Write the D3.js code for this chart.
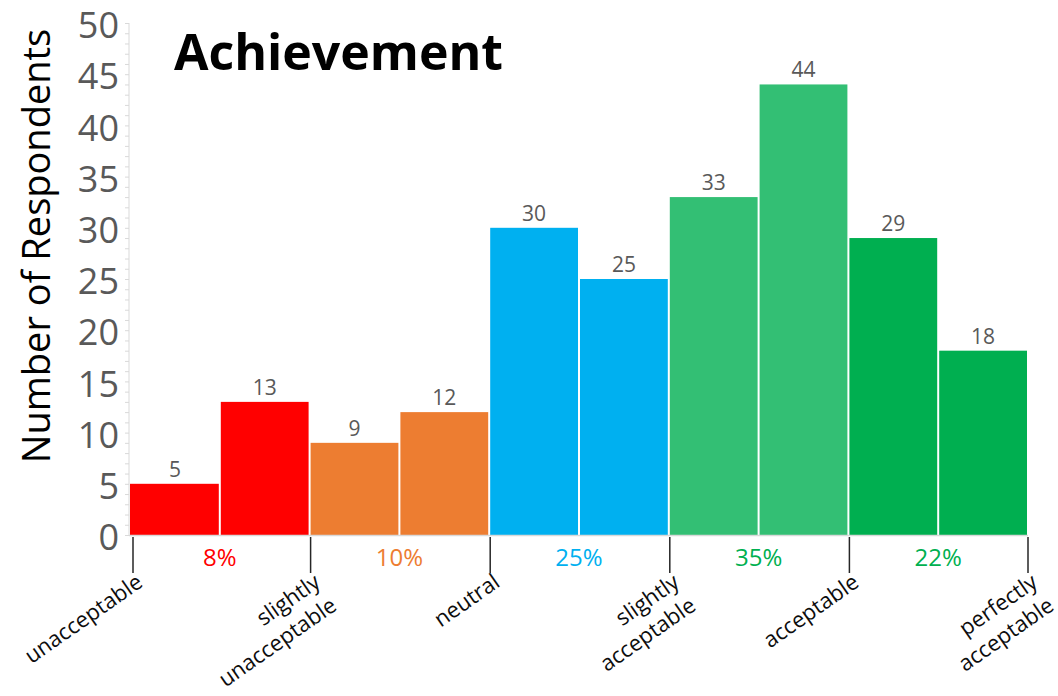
<!DOCTYPE html>
<html>
<head>
<meta charset="utf-8">
<script src="https://cdn.jsdelivr.net/npm/d3@7/dist/d3.min.js"></script>
<style>
  html, body { margin: 0; padding: 0; background: #fff; }
  svg { display: block; }
  text { font-family: "Open Sans", "Noto Sans", sans-serif; }
</style>
</head>
<body>
<svg id="chart" width="1058" height="696"></svg>
<script>
// Respondent counts, two bars per rating band
const values = [5, 13, 9, 12, 30, 25, 33, 44, 29, 18];
// Labels sitting on the band boundaries
const boundaryLabels = [
  ["unacceptable"],
  ["slightly", "unacceptable"],
  ["neutral"],
  ["slightly", "acceptable"],
  ["acceptable"],
  ["perfectly", "acceptable"]
];
// One colour per band (bars) and for the band's share label
const bandColors = ["#FF0000", "#ED7D31", "#00B0F0", "#33BF74", "#00AF50"];
const shareColors = ["#FF0000", "#ED7D31", "#00B0F0", "#00B050", "#00B050"];
const yTicks = [0, 5, 10, 15, 20, 25, 30, 35, 40, 45, 50];
const chartTitle = "Achievement";
const yTitle = "Number of Respondents";

const svg = d3.select("#chart");
const plotLeft = 130, plotRight = 1028, plotTop = 23, plotBottom = 535;

const x = d3.scaleBand().domain(d3.range(values.length)).range([plotLeft, plotRight]).padding(0);
const y = d3.scaleLinear().domain([0, 50]).range([plotBottom, plotTop]);
const bw = x.bandwidth();

// Minor ticks on the value axis (every respondent)
const yMinor = d3.axisLeft(y).ticks(50).tickSize(4).tickFormat("");
const gy = svg.append("g").attr("transform", `translate(${plotLeft - 1},0)`).call(yMinor);
gy.selectAll("line").attr("stroke", "#D9D9D9");
gy.select(".domain").attr("stroke", "#D9D9D9").attr("d", `M0,${y(0)}V${y(50)}`);

// Major tick labels
svg.append("g").selectAll("text").data(yTicks).join("text")
  .attr("x", 119).attr("y", d => y(d)).attr("dy", "0.42em")
  .attr("text-anchor", "end").attr("font-size", 36).attr("fill", "#595959")
  .text(d => d);

// Bars
svg.append("g").selectAll("rect").data(values).join("rect")
  .attr("x", (d, i) => x(i) + (i === 0 ? 0 : 1))
  .attr("width", (d, i) => bw - (i === 0 ? 1 : 2))
  .attr("y", d => y(d)).attr("height", d => y(0) - y(d))
  .attr("fill", (d, i) => bandColors[Math.floor(i / 2)]);

// Value labels above each bar
svg.append("g").selectAll("text").data(values).join("text")
  .attr("x", (d, i) => x(i) + bw / 2).attr("y", d => y(d) - 7)
  .attr("text-anchor", "middle").attr("font-size", 21).attr("fill", "#595959")
  .text(d => d);

// Category axis baseline
svg.append("line").attr("x1", plotLeft - 1).attr("x2", plotRight).attr("y1", y(0) + 0.5).attr("y2", y(0) + 0.5)
  .attr("stroke", "#D9D9D9").attr("stroke-width", 1.5);

// Boundary ticks between rating bands
const bx = k => (k === 0 ? x(0) + 3 : (k * 2 < values.length ? x(k * 2) + 1 : plotRight));
svg.append("g").selectAll("line").data(boundaryLabels).join("line")
  .attr("x1", (d, k) => bx(k)).attr("x2", (d, k) => bx(k))
  .attr("y1", y(0) + 2).attr("y2", y(0) + 38)
  .attr("stroke", "#262626").attr("stroke-width", 1.5);

// Rotated boundary labels
const lab = svg.append("g").selectAll("text").data(boundaryLabels).join("text")
  .attr("transform", (d, k) => `translate(${bx(k) + 1},${y(0) + 36}) rotate(-35)`)
  .attr("text-anchor", "end").attr("font-size", 22).attr("fill", "#0D0D0D");
lab.selectAll("tspan").data(d => d).join("tspan")
  .attr("x", 0).attr("dy", (d, j) => (j === 0 ? "0.8em" : "1.3em"))
  .text(d => d);

// Band shares computed from the counts
const total = d3.sum(values);
const shares = d3.range(values.length / 2).map(b => (values[2 * b] + values[2 * b + 1]) / total);
svg.append("g").selectAll("text").data(shares).join("text")
  .attr("x", (d, b) => x(2 * b + 1)).attr("y", y(0) + 31)
  .attr("text-anchor", "middle").attr("font-size", 24)
  .attr("fill", (d, b) => shareColors[b])
  .text(d => Math.round(d * 100) + "%");

// Axis title
svg.append("text")
  .attr("transform", `translate(50,${(plotTop + plotBottom) / 2 - 33}) rotate(-90)`)
  .attr("text-anchor", "middle").attr("font-size", 38).attr("fill", "#000")
  .text(yTitle);

// Chart title
svg.append("text").attr("x", 174).attr("y", 70)
  .attr("font-size", 50).attr("font-weight", "bold").attr("fill", "#000")
  .text(chartTitle);
</script>
</body>
</html>
